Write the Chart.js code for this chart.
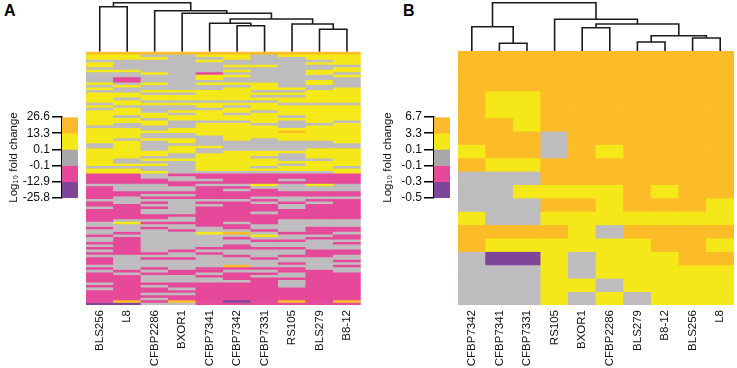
<!DOCTYPE html>
<html>
<head>
<meta charset="utf-8">
<script src="https://cdn.jsdelivr.net/npm/chart.js@4.4.1/dist/chart.umd.min.js"></script>
<style>
  html, body { margin: 0; padding: 0; background: #fff; }
  #stage { position: relative; width: 737px; height: 368px; overflow: hidden; font-family: "Liberation Sans", Arial, sans-serif; }
  #stage canvas { position: absolute; top: 0; }
  .panel-tag { position: absolute; top: 2px; font-weight: bold; font-size: 16px; color: #000; }
</style>
</head>
<body>
<div id="stage">
  <div class="panel-tag" style="left:4px">A</div>
  <div class="panel-tag" style="left:403px">B</div>
  <canvas id="legend-a" width="78" height="368" style="left:0"></canvas>
  <canvas id="heat-a" width="290" height="368" style="left:80px"></canvas>
  <canvas id="legend-b" width="72" height="368" style="left:378px"></canvas>
  <canvas id="heat-b" width="287" height="368" style="left:450px"></canvas>
</div>
<script>
'use strict';

// cell codes: O orange, Y yellow, G grey, P pink, V purple
const CELL_COLORS = { O: '#FCBC27', Y: '#F4E818', G: '#BEBCBE', P: '#E6489A', V: '#7E4599' };

const legendColors = ['#FDB92E', '#F5E817', '#A8A7AA', '#E6489A', '#7E4599'];
const legendTicksA = ['26.6', '13.3', '0.1', '-0.1', '-12.9', '-25.8'];
const legendTicksB = ['6.7', '3.3', '0.1', '-0.1', '-0.3', '-0.5'];

// --- panel A : 10 strains, each column read top -> bottom (100 rows) ---
const strainsA = ['BLS256', 'L8', 'CFBP2286', 'BXOR1', 'CFBP7341', 'CFBP7342', 'CFBP7331', 'RS105', 'BLS279', 'B8-12'];
const columnsA = [
  'OYYGYYGYGG' + 'GGYGYGYYYY' + 'GYGYYYYYYG' + 'YYYYYYGGYY' + 'YYYYYGYYPP' + 'PPGPPPPPGP' + 'PGPPPPPGGP' + 'GGPGGPGPGP' + 'GPPPGPGPPP' + 'PGPGPPPPPV',
  'OYYGGGGYGG' + 'PPGYGGYYGY' + 'YGYYYGYYGG' + 'YYYYGYYYYY' + 'YYGGYGYYPP' + 'PPGGGPPGGG' + 'PPPPPPGYGG' + 'GPGPPPPPPP' + 'GGGGGGPGPP' + 'PPPPPPPPOV',
  'OGYGGGGGYG' + 'GGYGGYGYYG' + 'YGGGYYGYYG' + 'GYGGYGGGGY' + 'YGYGYGGYGG' + 'PPGGGPGPGP' + 'GPGGPPGPGP' + 'GGGGGGGGGP' + 'GPGGGPGPGG' + 'GPGPPGPGPG',
  'OGGGGGGGGG' + 'GGGGGYGYYG' + 'YGGYGYYGGG' + 'YYGGYYGYYY' + 'GGYGGGGGPG' + 'GPPGGPGPGG' + 'GGGGPGGPGG' + 'PGGGGGGGPG' + 'GPGGGGPPGG' + 'GPPGPGPPOG',
  'OYGYGGGGPY' + 'YGYGGYYYYG' + 'YYGYYYYGYY' + 'YYYGGGGYGG' + 'YYYYYYYGPP' + 'GPGPPPPPGP' + 'GPPPPPPPPG' + 'GYGGGGGPGP' + 'GGGGGPPGPG' + 'GPPPPPPPPP',
  'OYYGGYGYGY' + 'GGYGYYYYYG' + 'YGYYGYYGYY' + 'YYYYYGGGGY' + 'YYYYYYYGPP' + 'PPGPGPPPGP' + 'PPPPPPPGPP' + 'GOGPGGPPGG' + 'PGGGOPGPPP' + 'GPPPPPPPVP',
  'OGGGGYGGGG' + 'GGYYYGYGYG' + 'YYYGYYYYGY' + 'YYYYGGGGGY' + 'YGYYYGYGPP' + 'PPYGPPPGPG' + 'PPPGPPPPGG' + 'PGYGPGGPGG' + 'GPGGGPGPGP' + 'PPPPPPPPPP',
  'OYGGGGGGGG' + 'GGGGYGYGYY' + 'GYYYYGYGGG' + 'YOYYYGGGGY' + 'GGGYGYYGPP' + 'GPGGGPPGGP' + 'GGPPPPGGGG' + 'GPGGPGGPGG' + 'PGGPGPPGGP' + 'GGGPPPPPOP',
  'OYYGYGGYYG' + 'GYYGGYYYYY' + 'GYYYYYYYGY' + 'YYYYYGGGYY' + 'YYGYYYYGPP' + 'PPYGGPPGPG' + 'PPPPPPGGGP' + 'PPGPGGGGPP' + 'PGGGGGPPPP' + 'PPPPPPPPPP',
  'OYYYYGYYGY' + 'GGGGYYYYYY' + 'GYYYYYYGYY' + 'YYYYYYGGYY' + 'YYYYYGYYPP' + 'PPGGGPPGPP' + 'PPPPPPGGGP' + 'PGPPGPGGPP' + 'GGPGPGGPPP' + 'PPPPPPPPOP'
];
// linkage: [left node, right node, height]; leaves are 0..9, merge k makes node 10+k
const mergesA = [
  [8, 9, 22.4], [5, 6, 26], [7, 10, 27.7], [4, 11, 28.4], [13, 12, 32.7],
  [3, 14, 38.4], [2, 15, 41], [0, 1, 45], [17, 16, 49]
];

// --- panel B : 19 genes (rows) x 10 strains ---
const strainsB = ['CFBP7342', 'CFBP7341', 'CFBP7331', 'RS105', 'BXOR1', 'CFBP2286', 'BLS279', 'B8-12', 'BLS256', 'L8'];
const rowsB = [
  'OOOOOOOOOO', 'OOOOOOOOOO', 'OOOOOOOOOO', 'OYYOOOOOOO', 'OYYOOOOOOO',
  'OOYOOOOOOO', 'OOOGOOOOOO', 'YOOGOYOOOO', 'OYYOOOOOOO', 'GGGOOOOOOO',
  'GGYYYYOYOO', 'GGGOOYOOOY', 'YGGYYYYYYY', 'OOOOYGOOOO', 'OYYYYYYOOY',
  'GVVYGYYYOO', 'GGGYGYYYYY', 'GGGYYGYYYY', 'GGGYGYGYYY'
];
const mergesB = [
  [1, 2, 7.7], [6, 7, 9], [8, 9, 13], [11, 12, 15.3], [4, 5, 23.3],
  [0, 10, 24.3], [14, 13, 27], [3, 16, 31.7], [15, 17, 48.3]
];

Chart.defaults.font.family = '"Liberation Sans", Arial, sans-serif';
Chart.defaults.color = '#111';

function dendroDatasets(leafCount, merges) {
  const nodes = [];
  for (let i = 0; i < leafCount; i++) nodes.push({ x: i, h: 0 });
  return merges.map(([a, b, h]) => {
    const left = nodes[a], right = nodes[b];
    nodes.push({ x: (left.x + right.x) / 2, h });
    return {
      type: 'line',
      yAxisID: 'yd',
      data: [{ x: left.x, y: left.h }, { x: left.x, y: h }, { x: right.x, y: h }, { x: right.x, y: right.h }],
      borderColor: '#1c1c1c',
      borderWidth: 1.6,
      borderJoinStyle: 'miter',
      pointRadius: 0,
      tension: 0,
      clip: false
    };
  });
}

function cellDatasets(rowCount, colorAt) {
  const sets = [];
  for (let r = 0; r < rowCount; r++) {
    sets.push({
      type: 'bar',
      yAxisID: 'y',
      data: Array.from({ length: 10 }, (_, c) => ({ x: c, y: 1 })),
      backgroundColor: Array.from({ length: 10 }, (_, c) => CELL_COLORS[colorAt(r, c)]),
      borderWidth: 0,
      barPercentage: 1,
      categoryPercentage: 1
    });
  }
  return sets;
}

function heatmapChart(id, { labels, rowCount, colorAt, merges, pad, dendroPx, heatPx }) {
  return new Chart(document.getElementById(id), {
    type: 'bar',
    data: { datasets: [...cellDatasets(rowCount, colorAt), ...dendroDatasets(labels.length, merges)] },
    options: {
      responsive: false,
      animation: false,
      events: [],
      layout: { padding: pad },
      plugins: { legend: { display: false }, tooltip: { enabled: false } },
      scales: {
        x: {
          type: 'linear', min: -0.5, max: 9.5, stacked: true, offset: false,
          afterBuildTicks: ax => { ax.ticks = labels.map((_, i) => ({ value: i })); },
          afterFit: ax => { ax.height = 63; ax.paddingLeft = 0; ax.paddingRight = 0; },
          grid: { display: false, drawTicks: false, offset: false },
          border: { display: false },
          ticks: { autoSkip: false, minRotation: 90, maxRotation: 90, padding: 5, color: '#111', font: { size: 11.5 }, callback: v => labels[v] }
        },
        y: { type: 'linear', position: 'left', stack: 'panel', stackWeight: heatPx, min: 0, max: rowCount, reverse: true, stacked: true, display: false },
        yd: { type: 'linear', position: 'left', stack: 'panel', stackWeight: dendroPx, min: 0, max: dendroPx, display: false }
      }
    }
  });
}

function legendChart(id, tickLabels, axisWidth, titlePad) {
  return new Chart(document.getElementById(id), {
    type: 'bar',
    data: {
      labels: [''],
      datasets: legendColors.map(c => ({ data: [1], backgroundColor: c, borderWidth: 0, barPercentage: 1, categoryPercentage: 1 }))
    },
    options: {
      responsive: false,
      animation: false,
      events: [],
      layout: { padding: { top: 117, bottom: 170, left: 0, right: 0 } },
      plugins: { legend: { display: false }, tooltip: { enabled: false } },
      scales: {
        x: { display: false, stacked: true },
        y: {
          stacked: true, reverse: true, min: 0, max: 5,
          afterBuildTicks: ax => { ax.ticks = tickLabels.map((_, i) => ({ value: i })); },
          afterFit: ax => { ax.width = axisWidth; },
          grid: { drawOnChartArea: false, drawTicks: true, tickLength: 10, color: '#000', lineWidth: 1.5 },
          border: { display: true, color: '#000', width: 1.5 },
          ticks: { autoSkip: false, padding: 2, color: '#111', font: { size: 12 }, callback: v => tickLabels[v] },
          title: { display: true, text: 'Log₁₀ fold change', color: '#111', font: { size: 11.5 }, padding: { top: titlePad, bottom: 0 } }
        }
      }
    }
  });
}

legendChart('legend-a', legendTicksA, 62, 7);
legendChart('legend-b', legendTicksB, 56, 3);

heatmapChart('heat-a', {
  labels: strainsA,
  rowCount: columnsA[0].length,
  colorAt: (r, c) => columnsA[c][r],
  merges: mergesA,
  pad: { left: 6, right: 9.3, top: 2, bottom: 0 },
  dendroPx: 49.7,
  heatPx: 253.3
});

heatmapChart('heat-b', {
  labels: strainsB,
  rowCount: rowsB.length,
  colorAt: (r, c) => rowsB[r][c],
  merges: mergesB,
  pad: { left: 8, right: 3, top: 2, bottom: 0 },
  dendroPx: 49,
  heatPx: 254
});
</script>
</body>
</html>
